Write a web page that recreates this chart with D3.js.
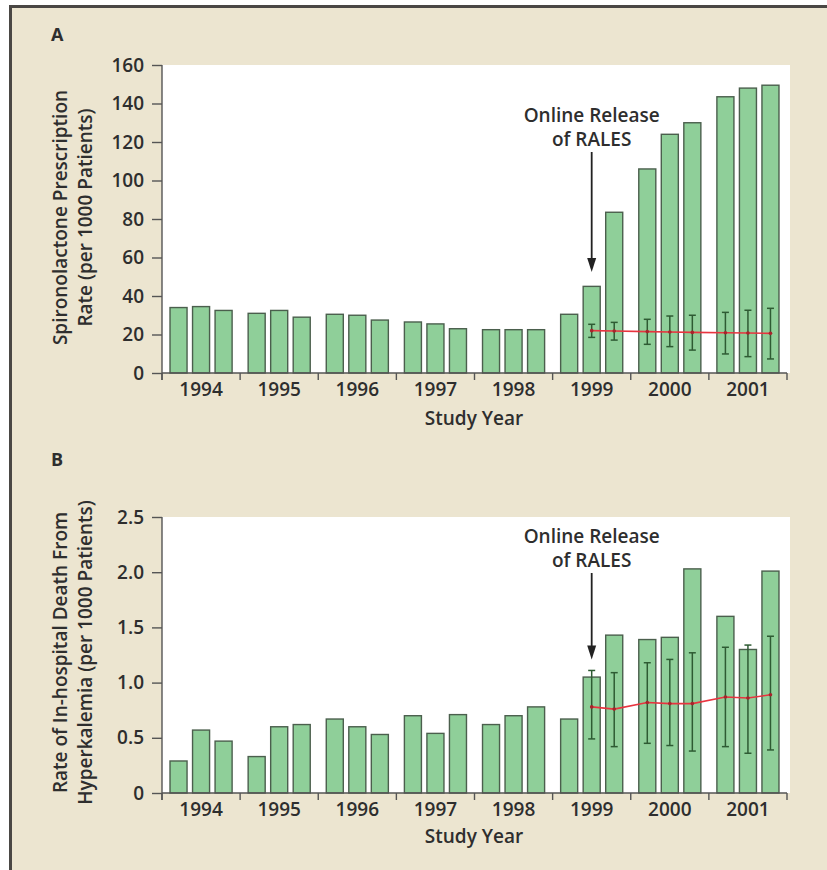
<!DOCTYPE html>
<html>
<head>
<meta charset="utf-8">
<script src="https://cdn.jsdelivr.net/npm/d3@7"></script>
<style>
  html, body { margin: 0; padding: 0; background: #ffffff; }
  svg { display: block; }
  text { font-family: "Open Sans", "DejaVu Sans", sans-serif; fill: #2e2e2e; }
</style>
</head>
<body>
<svg id="chart" width="827" height="870"></svg>
<script>
// Study years and the three sub-periods plotted inside each year
const years = ["1994", "1995", "1996", "1997", "1998", "1999", "2000", "2001"];
const periods = [1, 2, 3];

// Panel A: spironolactone prescription rate per 1000 patients, one value per sub-period
const rxRate = [34, 34.5, 32.5, 31, 32.5, 29, 30.5, 30, 27.5, 26.5, 25.5, 23,
                22.5, 22.5, 22.5, 30.5, 45, 83.5, 106, 124, 130, 143.5, 148, 149.5];

// Panel B: in-hospital death from hyperkalemia per 1000 patients
const deathRate = [0.29, 0.57, 0.47, 0.33, 0.60, 0.62, 0.67, 0.60, 0.53, 0.70, 0.54, 0.71,
                   0.62, 0.70, 0.78, 0.67, 1.05, 1.43, 1.39, 1.41, 2.03, 1.60, 1.30, 2.01];

// Sub-periods after the online release of RALES that carry expected values
const expYears   = ["1999", "1999", "2000", "2000", "2000", "2001", "2001", "2001"];
const expPeriods = [2, 3, 1, 2, 3, 1, 2, 3];

// Expected values with 95% interval, panel A
const rxExpected = [22, 21.8, 21.5, 21.3, 21.1, 20.9, 20.8, 20.6];
const rxLow      = [18.5, 17.1, 14.9, 13.7, 11.9, 9.9, 8.5, 7.3];
const rxHigh     = [25.3, 26.3, 27.9, 29.6, 30.0, 31.5, 32.6, 33.6];

// Expected values with 95% interval, panel B
const deathExpected = [0.78, 0.76, 0.82, 0.81, 0.81, 0.87, 0.86, 0.89];
const deathLow      = [0.49, 0.42, 0.45, 0.43, 0.38, 0.42, 0.36, 0.39];
const deathHigh     = [1.11, 1.09, 1.18, 1.21, 1.27, 1.32, 1.34, 1.42];

// Axis tick values
const rxTicks = [0, 20, 40, 60, 80, 100, 120, 140, 160];
const deathTicks = [0, 0.5, 1.0, 1.5, 2.0, 2.5];

const svg = d3.select("#chart");

// Beige page with a dark rule on the top and left edges
svg.append("rect").attr("x", 10).attr("y", 6).attr("width", 817).attr("height", 864)
  .attr("fill", "#ece5d0");
svg.append("path").attr("d", "M10.5,870 V6.5 H827")
  .attr("fill", "none").attr("stroke", "#4a4744").attr("stroke-width", 3);

const left = 162, right = 787;
const tickFont = 19, labelFont = 19;

const xYear = d3.scaleBand().domain(years).range([left, right]).padding(0);
const xPeriod = d3.scaleBand().domain(periods).range([0, xYear.bandwidth()])
  .paddingInner(0.244).paddingOuter(0.356);

const barData = (values) => years.flatMap((yr, i) =>
  periods.map((p, j) => ({ year: yr, period: p, value: values[i * 3 + j] })));

const expData = (mid, lo, hi) => expYears.map((yr, i) =>
  ({ year: yr, period: expPeriods[i], mid: mid[i], lo: lo[i], hi: hi[i] }));

const xCenter = d => xYear(d.year) + xPeriod(d.period) + xPeriod.bandwidth() / 2;

function panel(cfg) {
  const g = svg.append("g");
  const y = d3.scaleLinear().domain(cfg.domain).range([cfg.bottom, cfg.top]);

  // white plotting field
  g.append("rect").attr("x", left).attr("y", cfg.top)
    .attr("width", right - left + 3).attr("height", cfg.bottom - cfg.top)
    .attr("fill", "#ffffff");

  // panel letter
  g.append("text").attr("x", 51).attr("y", cfg.letterY)
    .style("font-size", "18px").style("font-weight", 700).text(cfg.letter);

  // bars
  g.selectAll("rect.bar").data(barData(cfg.values)).join("rect")
    .attr("class", "bar")
    .attr("x", d => xYear(d.year) + xPeriod(d.period))
    .attr("width", xPeriod.bandwidth())
    .attr("y", d => y(d.value))
    .attr("height", d => y(0) - y(d.value))
    .attr("fill", "#8fcf99")
    .attr("stroke", "#4b5f4d")
    .attr("stroke-width", 1.4);

  // expected-value intervals
  const ed = expData(cfg.mid, cfg.lo, cfg.hi);
  const eg = g.append("g").attr("stroke", "#2e5b33").attr("stroke-width", 1.5);
  eg.selectAll("line.v").data(ed).join("line").attr("class", "v")
    .attr("x1", xCenter).attr("x2", xCenter)
    .attr("y1", d => y(d.lo)).attr("y2", d => y(d.hi));
  eg.selectAll("line.t").data(ed).join("line").attr("class", "t")
    .attr("x1", d => xCenter(d) - 3.5).attr("x2", d => xCenter(d) + 3.5)
    .attr("y1", d => y(d.hi)).attr("y2", d => y(d.hi));
  eg.selectAll("line.b").data(ed).join("line").attr("class", "b")
    .attr("x1", d => xCenter(d) - 3.5).attr("x2", d => xCenter(d) + 3.5)
    .attr("y1", d => y(d.lo)).attr("y2", d => y(d.lo));

  // expected-value line
  g.append("path").datum(ed)
    .attr("d", d3.line().x(xCenter).y(d => y(d.mid)))
    .attr("fill", "none").attr("stroke", "#e8343f").attr("stroke-width", 1.6);
  g.selectAll("circle.m").data(ed).join("circle").attr("class", "m")
    .attr("cx", xCenter).attr("cy", d => y(d.mid)).attr("r", 1.8)
    .attr("fill", "#a8232b");

  // y axis
  const ya = g.append("g").attr("transform", `translate(${left},0)`)
    .call(d3.axisLeft(y).tickValues(cfg.ticks).tickFormat(cfg.fmt)
      .tickSize(10).tickPadding(8).tickSizeOuter(0));
  ya.attr("font-size", null).attr("font-family", null);
  ya.select(".domain").attr("stroke", "#555").attr("stroke-width", 1.4)
    .attr("d", `M0,${cfg.bottom + 7}V${cfg.top}`);
  ya.selectAll(".tick line").attr("stroke", "#555").attr("stroke-width", 1.4);
  ya.selectAll(".tick text").style("font-size", tickFont + "px").style("font-weight", 600);

  // x axis: year labels centred in each band, ticks on the year boundaries
  const xa = g.append("g").attr("transform", `translate(0,${cfg.bottom})`)
    .call(d3.axisBottom(xYear).tickSize(0).tickPadding(10));
  xa.attr("font-size", null).attr("font-family", null);
  xa.select(".domain").attr("stroke", "#555").attr("stroke-width", 1.4)
    .attr("d", `M${left},0H${right}`);
  xa.selectAll(".tick text").style("font-size", tickFont + "px").style("font-weight", 600);
  const bounds = years.map(yr => xYear(yr)).concat([right]);
  xa.selectAll("line.bound").data(bounds).join("line").attr("class", "bound")
    .attr("x1", d => d).attr("x2", d => d).attr("y1", 0).attr("y2", 7)
    .attr("stroke", "#555").attr("stroke-width", 1.4);

  // axis titles
  g.append("text").attr("x", 474).attr("y", cfg.xTitleY)
    .attr("text-anchor", "middle").style("font-size", labelFont + "px").style("font-weight", 600)
    .text("Study Year");
  const cy = (cfg.top + cfg.bottom) / 2 + cfg.titleShift;
  cfg.title.forEach((line, i) => {
    g.append("text")
      .attr("transform", `translate(${67 + i * 25},${cy}) rotate(-90)`)
      .attr("text-anchor", "middle").style("font-size", labelFont + "px").style("font-weight", 600)
      .text(line);
  });

  // release annotation
  const ax = xCenter({ year: "1999", period: 2 });
  g.append("text").attr("x", ax).attr("y", cfg.noteY).attr("text-anchor", "middle")
    .style("font-size", labelFont + "px").style("font-weight", 600).text("Online Release");
  g.append("text").attr("x", ax).attr("y", cfg.noteY + 24).attr("text-anchor", "middle")
    .style("font-size", labelFont + "px").style("font-weight", 600).text("of RALES");
  const tipY = y(cfg.arrowTip);
  g.append("line").attr("x1", ax).attr("x2", ax)
    .attr("y1", cfg.noteY + 30).attr("y2", tipY - 10)
    .attr("stroke", "#222").attr("stroke-width", 1.8);
  g.append("path")
    .attr("d", `M${ax - 4.5},${tipY - 14}L${ax + 4.5},${tipY - 14}L${ax},${tipY}Z`)
    .attr("fill", "#222");
}

panel({
  letter: "A", letterY: 41, top: 65, bottom: 373, domain: [0, 160],
  values: rxRate, mid: rxExpected, lo: rxLow, hi: rxHigh,
  ticks: rxTicks, fmt: d3.format("d"),
  title: ["Spironolactone Prescription", "Rate (per 1000 Patients)"], titleShift: -1.5,
  xTitleY: 425, noteY: 122, arrowTip: 52.5
});

panel({
  letter: "B", letterY: 466, top: 517, bottom: 793, domain: [0, 2.5],
  values: deathRate, mid: deathExpected, lo: deathLow, hi: deathHigh,
  ticks: deathTicks, fmt: d => d === 0 ? "0" : d3.format(".1f")(d),
  title: ["Rate of In-hospital Death From", "Hyperkalemia (per 1000 Patients)"], titleShift: -2.5,
  xTitleY: 843, noteY: 543, arrowTip: 1.21
});
</script>
</body>
</html>
